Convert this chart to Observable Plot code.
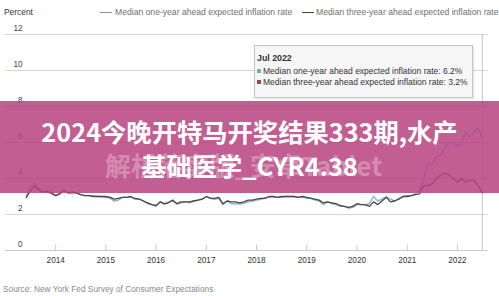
<!DOCTYPE html>
<html>
<head>
<meta charset="utf-8">
<script src="https://cdn.jsdelivr.net/npm/d3@7"></script>
<script src="https://cdn.jsdelivr.net/npm/@observablehq/plot@0.6"></script>
<style>
  html, body { margin: 0; padding: 0; background: #fff; }
  #wrap { position: relative; width: 499px; height: 296px; overflow: hidden; background: #fff;
          font-family: "Liberation Sans", Arial, sans-serif; }
  #chart { position: absolute; left: 0; top: 0; }
  .abs { position: absolute; white-space: nowrap; }
  .leg { font-size: 8.6px; line-height: 10px; color: #6f6f6f; }
  .legline { position: absolute; height: 1.4px; width: 12px; }
  #tip { position: absolute; left: 254px; top: 45px; width: 217px; height: 51px; background: #f6f6f6;
         border: 1px solid #c4c4c4; box-shadow: 1px 1px 2px rgba(0,0,0,0.12); font-size: 8.5px; color: #333; }
  #tip .row { position: absolute; left: 2px; line-height: 10px; }
  #tip .sq { display: inline-block; width: 4px; height: 4px; margin-right: 2px; vertical-align: 1px; }
  #banner { position: absolute; left: 0; top: 101px; width: 499px; height: 92px; background: rgba(184,68,128,0.86); }
  .btxt { position: absolute; left: 0; width: 499px; text-align: center; font-family: "Noto Sans CJK SC", sans-serif;
          font-weight: 700; font-size: 25.3px; line-height: 30px; color: #fff; white-space: nowrap; }
  .ghost { position: absolute; left: 105px; top: 49px; font-family: "Noto Sans CJK SC", sans-serif;
           font-weight: 700; font-size: 26px; line-height: 30px; color: rgba(255,255,255,0.3); white-space: nowrap; }
</style>
</head>
<body>
<div id="wrap">
  <div id="chart"></div>
  <div class="abs leg" style="left:4px;top:7px;color:#333;font-size:8.4px">Percent</div>
  <div class="legline" style="left:100px;top:11.5px;background:#8d8d8d"></div>
  <div class="abs leg" id="leg1" style="left:115px;top:7px"></div>
  <div class="legline" style="left:302px;top:11.5px;background:#3c3c3c"></div>
  <div class="abs leg" id="leg2" style="left:316px;top:7px"></div>
  <div id="tip">
    <div class="row" id="tipTitle" style="top:7px;font-weight:bold;font-size:8.8px"></div>
    <div class="row" id="tip1" style="top:20px"></div>
    <div class="row" id="tip2" style="top:31px"></div>
  </div>
  <div class="abs" id="source" style="left:3px;top:284px;font-size:8.3px;line-height:10px;color:#8a8a8a"></div>
  <div id="banner">
    <div class="ghost">解析落实版_安卓Tablet</div>
    <div class="btxt" style="top:15px">2024今晚开特马开奖结果333期,水产</div>
    <div class="btxt" style="top:49px">基础医学_CYR4.38</div>
  </div>
</div>
<script>
// ---- data ----
const seriesNames = ["Median one-year ahead expected inflation rate", "Median three-year ahead expected inflation rate"];
const startMonth = "2013-06-01";
const endMonth = "2022-08-01";
const tooltipMonth = "Jul 2022";
const tooltipValues = ["6.2%", "3.2%"];
const yTicks = [0, 2, 4, 6, 8, 10, 12];
const yearTicks = [2014, 2015, 2016, 2017, 2018, 2019, 2020, 2021, 2022];
const sourceText = "Source: New York Fed Survey of Consumer Expectations";

const oneYear = [
  3.05, 3.50, 3.72, 3.40, 3.25, 3.25, 3.15,
  3.05, 3.20, 3.30, 3.20, 3.15, 3.20, 3.10, 3.05, 3.05, 3.05, 3.00, 3.00,
  2.95, 2.90, 2.75, 2.80, 2.95, 2.95, 2.95, 2.85, 2.85, 2.75, 2.60, 2.55,
  2.45, 2.72, 2.55, 2.70, 2.75, 2.58, 2.65, 2.70, 2.65, 2.75, 2.80, 2.85,
  3.00, 2.90, 2.85, 2.90, 2.55, 2.75, 2.60, 2.60, 2.58, 2.62, 2.70, 2.75,
  2.80, 2.85, 2.90, 2.95, 3.00, 2.95, 2.95, 3.00, 3.00, 3.00, 2.95, 3.00,
  2.90, 2.90, 2.80, 2.75, 2.55, 2.70, 2.60, 2.55, 2.45, 2.45, 2.35, 2.40,
  2.55, 2.55, 2.55, 2.60, 3.00, 2.75, 2.85, 3.00, 2.85, 2.75, 2.90, 3.00,
  3.05, 3.05, 3.15, 3.35, 4.00, 4.80, 4.80, 5.20, 5.30, 5.70, 6.00, 6.00,
  5.80, 6.00, 6.60, 6.30, 6.60, 6.80, 6.20
];
const threeYear = [
  2.95, 3.30, 3.60, 3.35, 3.25, 3.30, 3.20,
  3.05, 3.15, 3.35, 3.20, 3.25, 3.20, 3.10, 3.05, 3.05, 3.00, 3.00, 3.00,
  3.00, 2.95, 2.85, 2.90, 2.95, 2.95, 3.00, 2.90, 2.85, 2.75, 2.65, 2.55,
  2.50, 2.70, 2.60, 2.65, 2.80, 2.60, 2.70, 2.70, 2.70, 2.75, 2.80, 2.85,
  3.00, 2.90, 2.90, 2.95, 2.60, 2.75, 2.70, 2.70, 2.65, 2.70, 2.80, 2.80,
  2.85, 2.90, 2.90, 3.00, 3.00, 2.95, 3.00, 3.00, 3.00, 3.00, 2.95, 3.00,
  2.95, 2.90, 2.85, 2.80, 2.65, 2.70, 2.65, 2.60, 2.50, 2.45, 2.40, 2.45,
  2.60, 2.55, 2.55, 2.45, 2.70, 2.55, 2.75, 2.95, 2.70, 2.75, 2.85, 3.00,
  3.00, 3.05, 3.10, 3.15, 3.60, 3.60, 3.70, 4.00, 4.20, 4.30, 4.20, 4.00,
  3.80, 4.00, 3.80, 3.90, 3.90, 3.60, 3.20
];

// ---- build ----
const months = d3.utcMonth.range(new Date(startMonth), new Date(endMonth));
const rows = months.map((d, i) => ({date: d, one: oneYear[i], three: threeYear[i]}));
const yearDates = yearTicks.map(y => new Date(Date.UTC(y, 0, 1)));
const lastDate = months[months.length - 1];

const blue = "#84b6cb";
const dark = "#504444";

const chart = Plot.plot({
  width: 499,
  height: 296,
  marginTop: 34,
  marginBottom: 46,
  marginLeft: 5,
  marginRight: 11,
  style: {background: "transparent", fontFamily: "'Liberation Sans', Arial, sans-serif", overflow: "visible"},
  x: {type: "utc", domain: [new Date("2013-01-01"), new Date("2022-08-15")]},
  y: {domain: [0, 12]},
  marks: [
    Plot.ruleY(yTicks.filter(d => d > 0), {stroke: "#d6d6d6", strokeWidth: 1}),
    Plot.ruleY([0], {stroke: "#c9c9c9", strokeWidth: 1}),
    Plot.ruleX(yearDates, {y1: 0, y2: 0.3, stroke: "#c9c9c9"}),
    Plot.ruleX([lastDate], {y1: 0, y2: 12, stroke: "#c4c4c4"}),
    Plot.axisY({ticks: yTicks, anchor: "left", tickSize: 0, tickPadding: 0, dx: 17, dy: -6,
                fontSize: 8.2, fill: "#444", label: null}),
    Plot.axisX({ticks: yearDates, tickFormat: d3.utcFormat("%Y"), tickSize: 0, tickPadding: 7,
                fontSize: 8.2, fill: "#333", label: null}),
    Plot.lineY(rows, {x: "date", y: "one", stroke: blue, strokeWidth: 1.4}),
    Plot.lineY(rows, {x: "date", y: "three", stroke: dark, strokeWidth: 1.3})
  ]
});
document.getElementById("chart").appendChild(chart);

document.getElementById("leg1").textContent = seriesNames[0];
document.getElementById("leg2").textContent = seriesNames[1];
document.getElementById("tipTitle").textContent = tooltipMonth;
document.getElementById("tip1").innerHTML = '<span class="sq" style="background:#6fa9c6"></span>' + seriesNames[0] + ": " + tooltipValues[0];
document.getElementById("tip2").innerHTML = '<span class="sq" style="background:#9a4747"></span>' + seriesNames[1] + ": " + tooltipValues[1];
document.getElementById("source").textContent = sourceText;
</script>
</body>
</html>
